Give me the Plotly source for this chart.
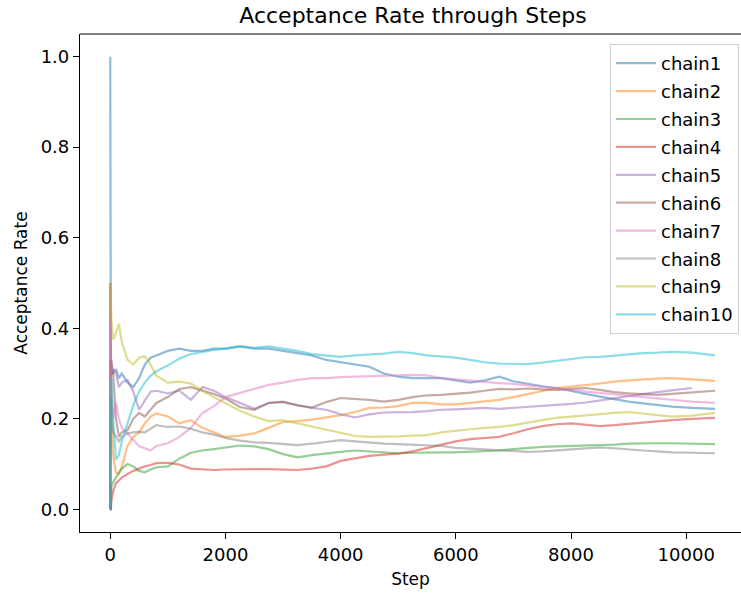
import plotly.graph_objects as go

steps = [0, 2, 5, 10, 20, 50, 100, 150, 200, 300, 400, 500, 600, 700, 800,
         1000, 1200, 1400, 1600, 1800, 2000, 2250, 2500, 2750, 3000, 3250, 3500,
         3750, 4000, 4250, 4500, 4750, 5000, 5250, 5500, 5750, 6000, 6250, 6500,
         6750, 7000, 7250, 7500, 7750, 8000, 8250, 8500, 8750, 9000, 9250, 9500,
         9750, 10100, 10500]

chain1 = [1.0, 0.5, 0.4, 0.33, 0.3, 0.3, 0.31, 0.29, 0.3, 0.28, 0.27, 0.29, 0.32, 0.335, 0.34,
          0.35, 0.355, 0.35, 0.35, 0.355, 0.355, 0.36, 0.355, 0.355, 0.35, 0.345, 0.34,
          0.33, 0.325, 0.32, 0.315, 0.30, 0.293, 0.29, 0.29, 0.29, 0.285, 0.28, 0.285,
          0.293, 0.283, 0.277, 0.272, 0.268, 0.261, 0.255, 0.249, 0.243, 0.238, 0.234, 0.23,
          0.227, 0.224, 0.222]
chain2 = [0.0, 0.5, 0.33, 0.3, 0.25, 0.12, 0.08, 0.08, 0.093, 0.14, 0.16, 0.17, 0.19, 0.205, 0.212,
          0.205, 0.19, 0.197, 0.18, 0.17, 0.16, 0.163, 0.168, 0.18, 0.193, 0.195, 0.198,
          0.203, 0.208, 0.215, 0.224, 0.225, 0.228, 0.235, 0.235, 0.232, 0.232, 0.235, 0.238,
          0.242, 0.248, 0.255, 0.262, 0.268, 0.271, 0.274, 0.278, 0.282, 0.285, 0.287, 0.289,
          0.29, 0.287, 0.284]
chain3 = [0.0, 0.0, 0.0, 0.0, 0.05, 0.06, 0.07, 0.08, 0.09, 0.10, 0.095, 0.085, 0.082, 0.088, 0.093,
          0.095, 0.112, 0.125, 0.13, 0.133, 0.137, 0.141, 0.139, 0.133, 0.122, 0.115, 0.12,
          0.124, 0.127, 0.13, 0.128, 0.125, 0.124, 0.125, 0.126, 0.126, 0.126, 0.127, 0.128,
          0.13, 0.133, 0.136, 0.138, 0.139, 0.14, 0.14, 0.142, 0.143, 0.145, 0.146, 0.146,
          0.146, 0.145, 0.144]
chain4 = [0.0, 0.0, 0.0, 0.0, 0.02, 0.04, 0.058, 0.065, 0.07, 0.078, 0.085, 0.09, 0.095, 0.098, 0.102,
          0.103, 0.099, 0.09, 0.088, 0.087, 0.088, 0.089, 0.089, 0.089, 0.088, 0.087, 0.09,
          0.095, 0.107, 0.113, 0.118, 0.121, 0.123, 0.128, 0.135, 0.143, 0.15, 0.155, 0.158,
          0.16, 0.168, 0.177, 0.184, 0.188, 0.19, 0.187, 0.184, 0.186, 0.189, 0.191, 0.194,
          0.197, 0.2, 0.202]
chain5 = [0.0, 0.5, 0.4, 0.35, 0.3, 0.31, 0.30, 0.27, 0.28, 0.286, 0.26, 0.22, 0.24, 0.26, 0.262,
          0.256, 0.262, 0.242, 0.27, 0.262, 0.248, 0.235, 0.222, 0.235, 0.237, 0.23, 0.224,
          0.22, 0.21, 0.203, 0.21, 0.214, 0.214, 0.215, 0.217, 0.22, 0.221, 0.223, 0.224,
          0.222, 0.224, 0.226, 0.228, 0.23, 0.233, 0.236, 0.24, 0.245, 0.25, 0.255, 0.259,
          0.263, 0.268, None]
chain6 = [0.0, 0.33, 0.3, 0.29, 0.33, 0.3, 0.2, 0.16, 0.17, 0.175, 0.2, 0.213, 0.205, 0.22, 0.235,
          0.248, 0.266, 0.27, 0.262, 0.255, 0.245, 0.226, 0.22, 0.235, 0.238, 0.23, 0.225,
          0.237, 0.246, 0.244, 0.242, 0.238, 0.242, 0.248, 0.252, 0.253, 0.255, 0.258, 0.262,
          0.266, 0.265, 0.267, 0.265, 0.264, 0.266, 0.268, 0.264, 0.259, 0.256, 0.254, 0.253,
          0.255, 0.258, 0.262]
chain7 = [0.0, 0.5, 0.33, 0.3, 0.25, 0.2, 0.235, 0.2, 0.18, 0.168, 0.153, 0.14, 0.135, 0.13, 0.14,
          0.146, 0.16, 0.18, 0.213, 0.228, 0.248, 0.257, 0.265, 0.275, 0.28, 0.286, 0.29,
          0.29, 0.292, 0.293, 0.295, 0.296, 0.297, 0.297, 0.296, 0.29, 0.287, 0.284, 0.281,
          0.279, 0.277, 0.274, 0.27, 0.267, 0.264, 0.26, 0.257, 0.254, 0.251, 0.248, 0.245,
          0.241, 0.238, 0.235]
chain8 = [0.0, 0.0, 0.2, 0.25, 0.2, 0.17, 0.16, 0.15, 0.16, 0.168, 0.17, 0.171, 0.17, 0.178, 0.186,
          0.182, 0.183, 0.178, 0.17, 0.165, 0.158, 0.152, 0.148, 0.147, 0.144, 0.142, 0.145,
          0.149, 0.153, 0.15, 0.147, 0.145, 0.144, 0.143, 0.142, 0.14, 0.136, 0.134, 0.132,
          0.13, 0.128, 0.127, 0.128, 0.13, 0.132, 0.135, 0.137, 0.135, 0.132, 0.13, 0.128,
          0.126, 0.125, 0.124]
chain9 = [0.5, 0.5, 0.45, 0.43, 0.42, 0.375, 0.39, 0.41, 0.37, 0.33, 0.32, 0.335, 0.338, 0.32, 0.295,
          0.28, 0.282, 0.278, 0.262, 0.248, 0.235, 0.218, 0.205, 0.195, 0.197, 0.19, 0.183,
          0.176, 0.17, 0.162, 0.16, 0.16, 0.161, 0.163, 0.164, 0.17, 0.174, 0.177, 0.18,
          0.182, 0.186, 0.192, 0.197, 0.202, 0.205, 0.208, 0.211, 0.213, 0.215, 0.212, 0.208,
          0.205, 0.207, 0.213]
chain10 = [0.0, 0.0, 0.2, 0.25, 0.29, 0.2, 0.11, 0.12, 0.15, 0.19, 0.23, 0.26, 0.28, 0.295, 0.305,
           0.318, 0.333, 0.343, 0.348, 0.352, 0.355, 0.36, 0.357, 0.36, 0.355, 0.35, 0.343,
           0.34, 0.337, 0.34, 0.342, 0.344, 0.348, 0.345, 0.34, 0.338, 0.335, 0.33, 0.325,
           0.322, 0.321, 0.321, 0.324, 0.328, 0.333, 0.336, 0.337, 0.34, 0.343, 0.345, 0.346,
           0.348, 0.346, 0.34]

chain_names = ["chain1", "chain2", "chain3", "chain4", "chain5",
               "chain6", "chain7", "chain8", "chain9", "chain10"]
chain_values = [chain1, chain2, chain3, chain4, chain5,
                chain6, chain7, chain8, chain9, chain10]
colors = ["rgba(31,119,180,0.5)", "rgba(255,127,14,0.5)", "rgba(44,160,44,0.5)",
          "rgba(214,39,40,0.5)", "rgba(148,103,189,0.5)", "rgba(140,86,75,0.5)",
          "rgba(227,119,194,0.5)", "rgba(127,127,127,0.5)", "rgba(188,189,34,0.5)",
          "rgba(23,190,207,0.5)"]

x_ticks = [0, 2000, 4000, 6000, 8000, 10000]
x_tick_text = ["0", "2000", "4000", "6000", "8000", "10000"]
y_ticks = [0.0, 0.2, 0.4, 0.6, 0.8, 1.0]
y_tick_text = ["0.0", "0.2", "0.4", "0.6", "0.8", "1.0"]

FONT = "DejaVu Sans"

fig = go.Figure()
for name, vals, col in zip(chain_names, chain_values, colors):
    fig.add_trace(go.Scatter(x=steps, y=vals, mode="lines", name=name,
                             legendgroup=name,
                             line=dict(color=col, width=2.2)))

fig.update_layout(
    width=741, height=594,
    margin=dict(l=80, r=0, t=34, b=62, autoexpand=False),
    paper_bgcolor="white", plot_bgcolor="white",
    font=dict(family=FONT, size=18, color="black"),
    title=dict(text="Acceptance Rate through Steps", x=413 / 741,
               xanchor="center", y=1 - 15 / 594, yanchor="middle",
               font=dict(family=FONT, size=22, color="black")),
    xaxis=dict(range=[-525, 10951], tickvals=x_ticks, ticktext=x_tick_text,
               ticks="outside", ticklen=6, automargin=False,
               tickcolor="black", showline=True, linecolor="black", linewidth=1.2,
               showgrid=False, zeroline=False, tickfont=dict(size=18),
               title=dict(text="Step", standoff=9, font=dict(size=17))),
    yaxis=dict(range=[-0.05, 1.05], tickvals=y_ticks, ticktext=y_tick_text,
               ticks="outside", automargin=False,
               ticklen=6, tickcolor="black", showline=True, linecolor="black",
               linewidth=1.2, showgrid=False, zeroline=False, tickfont=dict(size=18),
               title=dict(text="Acceptance Rate", standoff=8, font=dict(size=17))),
    legend=dict(x=(739 - 80) / 661, y=(532 - 44) / 498, xanchor="right", yanchor="top",
                bgcolor="white", bordercolor="#d0d0d0", borderwidth=1,
                font=dict(family=FONT, size=18), tracegroupgap=1.5,
                itemwidth=40),
    showlegend=True,
)
fig.add_shape(type="line", xref="paper", yref="paper", x0=0, x1=1, y0=1, y1=1,
              line=dict(color="black", width=1.2))

fig.write_html("out.html", config={"displayModeBar": False},
               post_script="document.body.style.margin='0px';")
